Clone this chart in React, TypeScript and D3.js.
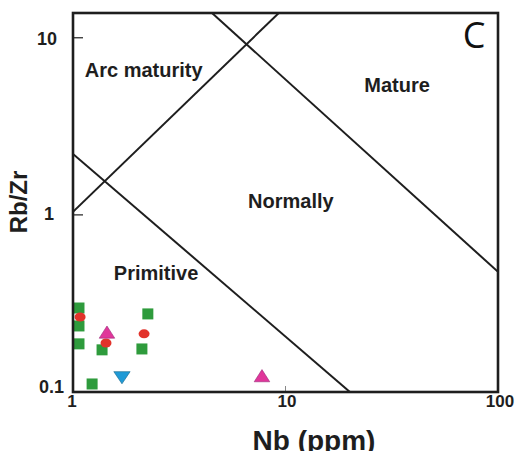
import React from "react";
import * as d3 from "d3";

const xTicks = [1, 10, 100];
const yTicks = [0.1, 1, 10];
const xDomain = [1, 100];
const yDomain = [0.1, 13.8];

// discrimination boundaries (Nb, Rb/Zr)
const arcLine = [[1, 1.04], [9.3, 13.8]];
const primitiveLine = [[1, 2.21], [20.1, 0.1]];
const matureLine = [[4.51, 13.8], [100, 0.477]];

const fieldLabels = ["Arc maturity", "Mature", "Normally", "Primitive"];
const fieldPos = [[2.15, 6.02], [33.5, 4.95], [10.6, 1.1], [2.46, 0.429]];

const greenNb = [1.067, 1.067, 1.067, 1.37, 1.23, 2.25, 2.11];
const greenRbZr = [0.298, 0.236, 0.187, 0.173, 0.111, 0.276, 0.175];
const redNb = [1.08, 1.43, 2.16];
const redRbZr = [0.265, 0.189, 0.213];
const magentaNb = [1.445, 7.75];
const magentaRbZr = [0.215, 0.122];
const blueNb = [1.7];
const blueRbZr = [0.122];

export default function App() {
  const W = 520, H = 451;
  const L = 73, R = 498, T = 13, B = 392;
  const x = d3.scaleLog().domain(xDomain).range([L, R]);
  const y = d3.scaleLog().domain(yDomain).range([B, T]);
  const line = d3.line<number[]>().x(d => x(d[0])).y(d => y(d[1]));
  const font = "Liberation Sans, Arial, sans-serif";
  const ink = "#1e1e1e";
  const tri = d3.symbol().type(d3.symbolTriangle).size(95);
  const yLabelEnd: Record<string, number> = { "0.1": 64, "1": 54, "10": 57 };
  const yLabelBase: Record<string, number> = { "0.1": 393, "1": 220, "10": 45 };
  const xLabelCx: Record<string, number> = { "1": 72, "10": 287, "100": 500 };

  return (
    <svg width={W} height={H} style={{ position: "absolute", left: 0, top: 0 }}>
      <rect x={0} y={0} width={W} height={H} fill="#fff" />
      <defs>
        <clipPath id="pc"><rect x={L} y={T} width={R - L} height={B - T} /></clipPath>
      </defs>
      <g clipPath="url(#pc)" fill="none" stroke={ink} strokeWidth={2}>
        <path d={line(arcLine as any) || ""} />
        <path d={line(primitiveLine as any) || ""} />
        <path d={line(matureLine as any) || ""} />
      </g>
      {greenNb.map((v, i) => (
        <rect key={"g" + i} x={x(v) - 5.5} y={y(greenRbZr[i]) - 5.5} width={11} height={11} fill="#2e9b3c" />
      ))}
      {redNb.map((v, i) => (
        <ellipse key={"r" + i} cx={x(v)} cy={y(redRbZr[i])} rx={5.5} ry={4.5} fill="#e2332b" />
      ))}
      {magentaNb.map((v, i) => (
        <path key={"m" + i} d={tri() || ""} transform={`translate(${x(v)},${y(magentaRbZr[i]) + 1}) scale(1.05,0.95)`} fill="#e0369a" stroke="#9b2a7a" strokeWidth={0.6} />
      ))}
      {blueNb.map((v, i) => (
        <path key={"b" + i} d={tri() || ""} transform={`translate(${x(v)},${y(blueRbZr[i]) - 1}) rotate(180) scale(1.1,0.95)`} fill="#1f9ad6" stroke="#16688f" strokeWidth={0.6} />
      ))}
      {yTicks.filter(t => t > 0.1).map(t => (
        <line key={"yt" + t} x1={L} x2={L + 10} y1={y(t)} y2={y(t)} stroke={ink} strokeWidth={1.2} />
      ))}
      {xTicks.filter(t => t > 1 && t < 100).map(t => (
        <line key={"xt" + t} x1={x(t)} x2={x(t)} y1={B} y2={B - 6} stroke="#888" strokeWidth={1} />
      ))}
      <rect x={L} y={T} width={R - L} height={B - T} fill="none" stroke={ink} strokeWidth={2.6} />
      {yTicks.map(t => (
        <text key={"yl" + t} x={yLabelEnd[String(t)]} y={yLabelBase[String(t)]} textAnchor="end" fontFamily={font} fontWeight="bold" fontSize={18} fill={ink}>{t}</text>
      ))}
      {xTicks.map(t => (
        <text key={"xl" + t} x={xLabelCx[String(t)]} y={407} textAnchor="middle" fontFamily={font} fontWeight="bold" fontSize={17} fill={ink}>{t}</text>
      ))}
      {fieldLabels.map((s, i) => (
        <text key={s} x={x(fieldPos[i][0])} y={y(fieldPos[i][1])} textAnchor="middle" fontFamily={font} fontWeight="bold" fontSize={20} fill={ink}>{s}</text>
      ))}
      <text x={474} y={48} textAnchor="middle" fontFamily="Open Sans, sans-serif" fontSize={36} fill="#111">C</text>
      <text x={314} y={450} textAnchor="middle" fontFamily={font} fontWeight="bold" fontSize={28} fill={ink}>Nb (ppm)</text>
      <text transform="translate(27,202) rotate(-90)" textAnchor="middle" fontFamily={font} fontWeight="bold" fontSize={24} fill={ink}>Rb/Zr</text>
    </svg>
  );
}
